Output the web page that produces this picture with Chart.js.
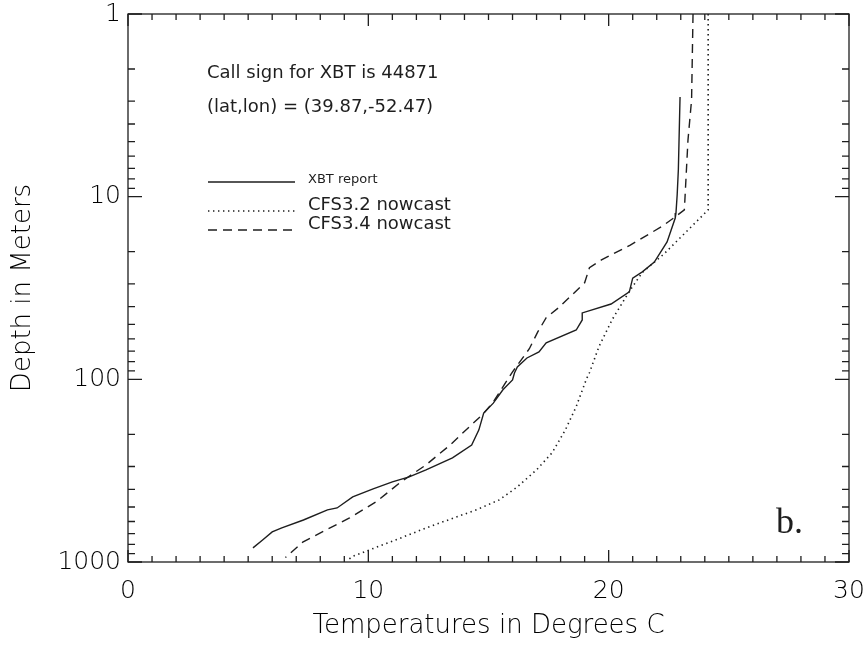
<!DOCTYPE html>
<html>
<head>
<meta charset="utf-8">
<script src="https://cdn.jsdelivr.net/npm/chart.js@4.4.1/dist/chart.umd.min.js"></script>
<style>
    body { margin: 0; background: #fff; }
    #wrap { width: 867px; height: 646px; }
</style>
</head>
<body>
<div id="wrap"><canvas id="grafico" width="867" height="646"></canvas></div>
<script>
// ejes
const tempTicks = [0, 10, 20, 30];
const depthTicks = [1, 10, 100, 1000];

// XBT report (profundidad en m, temperatura en C)
const xbtDepth = [2.85, 7.1, 9.8, 12.3, 13.1, 17.7, 22.8, 25.8, 27.9, 33.2, 38.7, 43.3, 47.3, 53.7, 63.2, 70.8, 76.4, 85.6, 92.3, 100.7, 114, 135, 153, 189, 229, 269, 313, 342, 364, 398, 440, 506, 518, 589, 651, 684, 757, 837];
const xbtTemp  = [22.97, 22.9, 22.85, 22.8, 22.77, 22.43, 21.9, 21.4, 21.0, 20.86, 20.1, 18.9, 18.9, 18.65, 17.4, 17.1, 16.6, 16.2, 16.08, 16.0, 15.6, 15.2, 14.8, 14.6, 14.3, 13.5, 12.4, 11.7, 11.0, 10.2, 9.35, 8.7, 8.3, 7.3, 6.4, 6.0, 5.6, 5.2];

// CFS3.2 nowcast
const cfs32Depth = [1, 11.8, 12.9, 20.6, 26, 33, 47, 66, 92, 100, 141, 189, 252, 313, 388, 457, 518, 640, 779, 870, 932, 985];
const cfs32Temp  = [24.14, 24.14, 23.85, 22.3, 21.4, 20.86, 20.15, 19.6, 19.2, 19.07, 18.65, 18.2, 17.65, 17.0, 16.2, 15.45, 14.5, 12.55, 10.9, 9.93, 9.35, 9.1];

// CFS3.4 nowcast
const cfs34Depth = [1, 2.95, 4.9, 8.8, 11.8, 12.9, 14.6, 18.4, 22.2, 24.5, 29.6, 40.2, 46, 55, 68, 91, 110, 133, 156, 182, 229, 294, 369, 466, 574, 665, 779, 945];
const cfs34Temp  = [23.51, 23.45, 23.3, 23.2, 23.15, 22.77, 22.2, 20.9, 19.7, 19.2, 19.0, 17.95, 17.4, 17.05, 16.7, 16.0, 15.6, 15.2, 14.75, 14.2, 13.4, 12.4, 11.3, 10.35, 9.22, 8.27, 7.27, 6.55];

const tinta = '#1e1e1e';
const fuente = 'DejaVu Sans';

function puntos(prof, temp) {
    return prof.map((d, i) => ({ x: temp[i], y: d }));
}

const series = [
    { label: 'XBT report', data: puntos(xbtDepth, xbtTemp), dash: [], width: 1.4 },
    { label: 'CFS3.2 nowcast', data: puntos(cfs32Depth, cfs32Temp), dash: [1.4, 3.6], width: 1.6 },
    { label: 'CFS3.4 nowcast', data: puntos(cfs34Depth, cfs34Temp), dash: [9, 6], width: 1.4 }
];

// marcas hacia adentro en los cuatro lados, estilo IDL
const marcasInternas = {
    id: 'marcasInternas',
    afterDraw(chart) {
        const { ctx, chartArea: a, scales: { x, y } } = chart;
        ctx.save();
        ctx.strokeStyle = tinta;
        ctx.lineWidth = 1.3;
        ctx.strokeRect(a.left, a.top, a.right - a.left, a.bottom - a.top);
        ctx.beginPath();
        for (let t = tempTicks[0]; t <= tempTicks[tempTicks.length - 1]; t++) {
            const px = x.getPixelForValue(t);
            const largo = tempTicks.includes(t) ? 12 : 6;
            ctx.moveTo(px, a.bottom); ctx.lineTo(px, a.bottom - largo);
            ctx.moveTo(px, a.top); ctx.lineTo(px, a.top + largo);
        }
        depthTicks.forEach((dec, k) => {
            const tope = k === depthTicks.length - 1 ? 1 : 9;
            for (let m = 1; m <= tope; m++) {
                const py = y.getPixelForValue(dec * m);
                const largo = m === 1 ? 14 : 7;
                ctx.moveTo(a.left, py); ctx.lineTo(a.left + largo, py);
                ctx.moveTo(a.right, py); ctx.lineTo(a.right - largo, py);
            }
        });
        ctx.stroke();
        ctx.restore();
    }
};

// textos y leyenda dentro del grafico
const anotaciones = {
    id: 'anotaciones',
    afterDraw(chart) {
        const { ctx } = chart;
        ctx.save();
        ctx.fillStyle = tinta;
        ctx.strokeStyle = tinta;
        ctx.textBaseline = 'alphabetic';
        ctx.font = '18px "' + fuente + '"';
        ctx.fillText('Call sign for XBT is 44871', 207, 78);
        ctx.fillText('(lat,lon) = (39.87,-52.47)', 207, 112);

        const filas = [
            { y: 182, ty: 183, size: 13 },
            { y: 211, ty: 210, size: 18 },
            { y: 230, ty: 229, size: 18 }
        ];
        series.forEach((s, i) => {
            const f = filas[i];
            ctx.beginPath();
            ctx.lineWidth = s.width;
            ctx.setLineDash(s.dash);
            ctx.moveTo(208, f.y);
            ctx.lineTo(295, f.y);
            ctx.stroke();
            ctx.setLineDash([]);
            ctx.font = f.size + 'px "' + fuente + '"';
            ctx.fillText(s.label, 308, f.ty);
        });

        ctx.font = '36px "Liberation Serif"';
        ctx.fillText('b.', 776, 533);
        ctx.restore();
    }
};

Chart.defaults.font.family = fuente;
Chart.defaults.color = '#000';

const ctx = document.getElementById('grafico').getContext('2d');
new Chart(ctx, {
    type: 'scatter',
    data: {
        datasets: series.map(s => ({
            label: s.label,
            data: s.data,
            showLine: true,
            borderColor: tinta,
            borderWidth: s.width,
            borderDash: s.dash,
            pointRadius: 0,
            tension: 0,
            fill: false
        }))
    },
    options: {
        responsive: false,
        animation: false,
        layout: { padding: { top: 14, right: 18, left: 0, bottom: 0 } },
        plugins: {
            legend: { display: false },
            tooltip: { enabled: false }
        },
        scales: {
            x: {
                type: 'linear',
                min: 0,
                max: 30,
                afterBuildTicks: s => { s.ticks = tempTicks.map(v => ({ value: v })); },
                afterFit: s => {
                    s.height = 84;
                    s.paddingLeft = 0;
                    s.paddingRight = 0;
                },
                grid: { display: false, drawTicks: false },
                border: { display: false },
                ticks: {
                    autoSkip: false,
                    maxRotation: 0,
                    padding: 14,
                    color: '#000',
                    font: { size: 25, weight: '300' },
                    callback: v => String(v)
                },
                title: {
                    display: true,
                    text: 'Temperatures in Degrees C',
                    color: '#000',
                    font: { size: 26, lineHeight: 1.2, weight: '300' },
                    padding: { top: 0, bottom: 4 }
                }
            },
            y: {
                type: 'logarithmic',
                reverse: true,
                min: 1,
                max: 1000,
                afterBuildTicks: s => { s.ticks = depthTicks.map(v => ({ value: v })); },
                afterFit: s => {
                    s.width = 128;
                    s.paddingTop = 0;
                    s.paddingBottom = 0;
                },
                grid: { display: false, drawTicks: false },
                border: { display: false },
                ticks: {
                    autoSkip: false,
                    padding: 7,
                    color: '#000',
                    font: { size: 25, weight: '300' },
                    callback: v => String(v)
                },
                title: {
                    display: true,
                    text: 'Depth in Meters',
                    color: '#000',
                    font: { size: 26, lineHeight: 1.2, weight: '300' },
                    padding: { top: 8, bottom: 0 }
                }
            }
        }
    },
    plugins: [marcasInternas, anotaciones]
});
</script>
</body>
</html>
